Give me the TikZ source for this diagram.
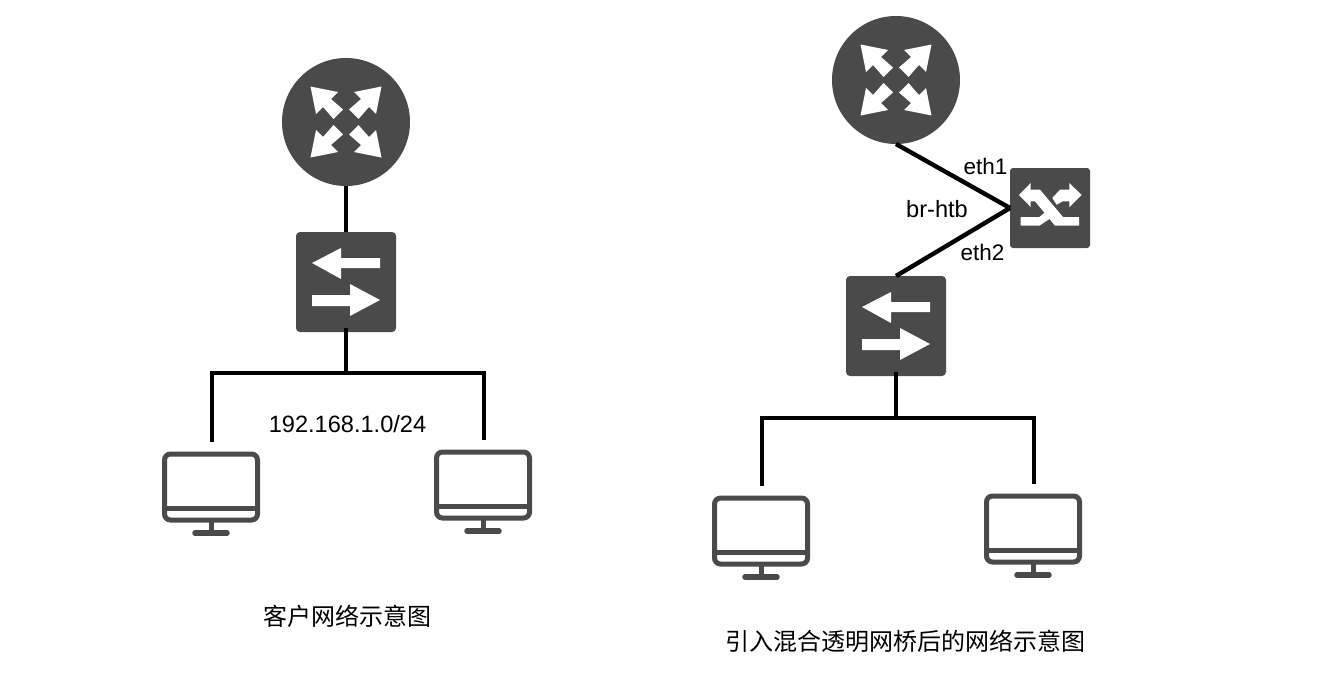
\documentclass[tikz,border=0pt]{standalone}
\usepackage{fontspec}
\setmainfont{Liberation Sans}
\newfontfamily\cjk{Noto Sans CJK SC}
\definecolor{icongray}{HTML}{4A4A4A}
\tikzset{
  link/.style={line width=4.4pt, color=black},
  routerbox/.style={circle, fill=icongray, minimum size=128pt, inner sep=0pt, outer sep=0pt},
  switchbox/.style={rectangle, fill=icongray, rounded corners=4pt, minimum size=100pt, inner sep=0pt, outer sep=0pt},
  bridgebox/.style={rectangle, fill=icongray, rounded corners=3pt, minimum size=80pt, inner sep=0pt, outer sep=0pt},
  pcbox/.style={rectangle, draw=icongray, line width=5pt, rounded corners=6pt, minimum width=93pt, minimum height=66pt, inner sep=0pt, outer sep=0pt},
  portlabel/.style={font=\fontsize{23.6}{28}\selectfont, inner sep=0pt},
  ethlabel/.style={font=\fontsize{22.5}{28}\selectfont, inner sep=0pt},
  caption/.style={font=\cjk\fontsize{24}{28}\selectfont, inner sep=0pt},
  pics/routerglyph/.style={code={
    \fill[white, rotate=#1] (-35.5,-35.5) -- (-8,-30) -- (-15,-23) -- (-3,-12.5) -- (-12.5,-3) -- (-23,-15) -- (-30,-8) -- cycle;
  }},
  pics/switchglyph/.style={code={
    \fill[white] (-34,-19) -- (-5,-34) -- (-5,-24) -- (34,-24) -- (34,-14) -- (-5,-14) -- (-5,-3) -- cycle;
    \fill[white] (34,18) -- (4,2) -- (4,13) -- (-34,13) -- (-34,24) -- (4,24) -- (4,34) -- cycle;
  }},
  pics/bridgeglyph/.style={code={
    \fill[white] (-31,-13) -- (-19.3,-25) -- (-19.3,-18.3) -- (-10,-18.3) -- (13,9) -- (29,9) -- (29,17.7) -- (5,17.7) -- (-15,-6.7) -- (-19.3,-6.7) -- (-19.3,-1) -- cycle;
    \fill[white] (-29.3,9) -- (-10.7,9) -- (-5,4.3) -- (1,10) -- (-10.7,17.7) -- (-29.3,17.7) -- cycle;
    \fill[white] (31.7,-13) -- (19.3,-25) -- (19.3,-18.3) -- (10,-18.3) -- (2.3,-10) -- (6.7,-3.3) -- (12.7,-6.7) -- (19.3,-6.7) -- (19.3,-0.7) -- cycle;
  }},
  pics/pcstand/.style={code={
    \draw[icongray, line width=5pt] (-46,21) -- (46,21);
    \draw[icongray, line width=5pt] (0,34) -- (0,46);
    \draw[icongray, line width=5.5pt, line cap=round] (-16,46) -- (16,46);
  }}
}
\begin{document}
\begin{tikzpicture}[x=1pt, y=-1pt]
  \useasboundingbox (0,0) rectangle (1326,680);
  % left network
  \node[routerbox] (routerA) at (346,122) {};
  \node[switchbox] (switchA) at (346,282) {};
  \node[pcbox] (pcA) at (211,487) {};
  \node[pcbox] (pcB) at (483,485) {};
  \coordinate (busA) at (346,373);
  \draw[link] (routerA.south) -- (switchA.north);
  \draw[link] ([yshift=4]switchA.south) -- (busA);
  \draw[link] ([xshift=1,yshift=12]pcA.north) |- (busA) -| ([xshift=1,yshift=12]pcB.north);
  \pic at (routerA) {routerglyph=0};
  \pic at (routerA) {routerglyph=90};
  \pic at (routerA) {routerglyph=180};
  \pic at (routerA) {routerglyph=270};
  \pic at (switchA) {switchglyph};
  \pic at (pcA) {pcstand};
  \pic at (pcB) {pcstand};
  \node[portlabel] (subnet) at (347.5,424) {192.168.1.0/24};
  \node[caption] (captionA) at (347,616) {客户网络示意图};
  % right network
  \node[routerbox] (routerB) at (896,80) {};
  \node[bridgebox] (bridge) at (1050,208) {};
  \node[switchbox] (switchB) at (896,326) {};
  \node[pcbox] (pcC) at (761,531) {};
  \node[pcbox] (pcD) at (1033,529) {};
  \coordinate (busB) at (896,418);
  \draw[link] (routerB.south) -- (bridge.west);
  \draw[link] (bridge.west) -- (switchB.north);
  \draw[link] ([yshift=4]switchB.south) -- (busB);
  \draw[link] ([xshift=1,yshift=12]pcC.north) |- (busB) -| ([xshift=1,yshift=12]pcD.north);
  \pic at (routerB) {routerglyph=0};
  \pic at (routerB) {routerglyph=90};
  \pic at (routerB) {routerglyph=180};
  \pic at (routerB) {routerglyph=270};
  \pic at (bridge) {bridgeglyph};
  \pic at (switchB) {switchglyph};
  \pic at (pcC) {pcstand};
  \pic at (pcD) {pcstand};
  \node[ethlabel] (ethA) at (985.5,166) {eth1};
  \node[portlabel] (brhtb) at (937,209) {br-htb};
  \node[ethlabel] (ethB) at (982.5,252) {eth2};
  \node[caption] (captionB) at (905,641) {引入混合透明网桥后的网络示意图};
\end{tikzpicture}
\end{document}
